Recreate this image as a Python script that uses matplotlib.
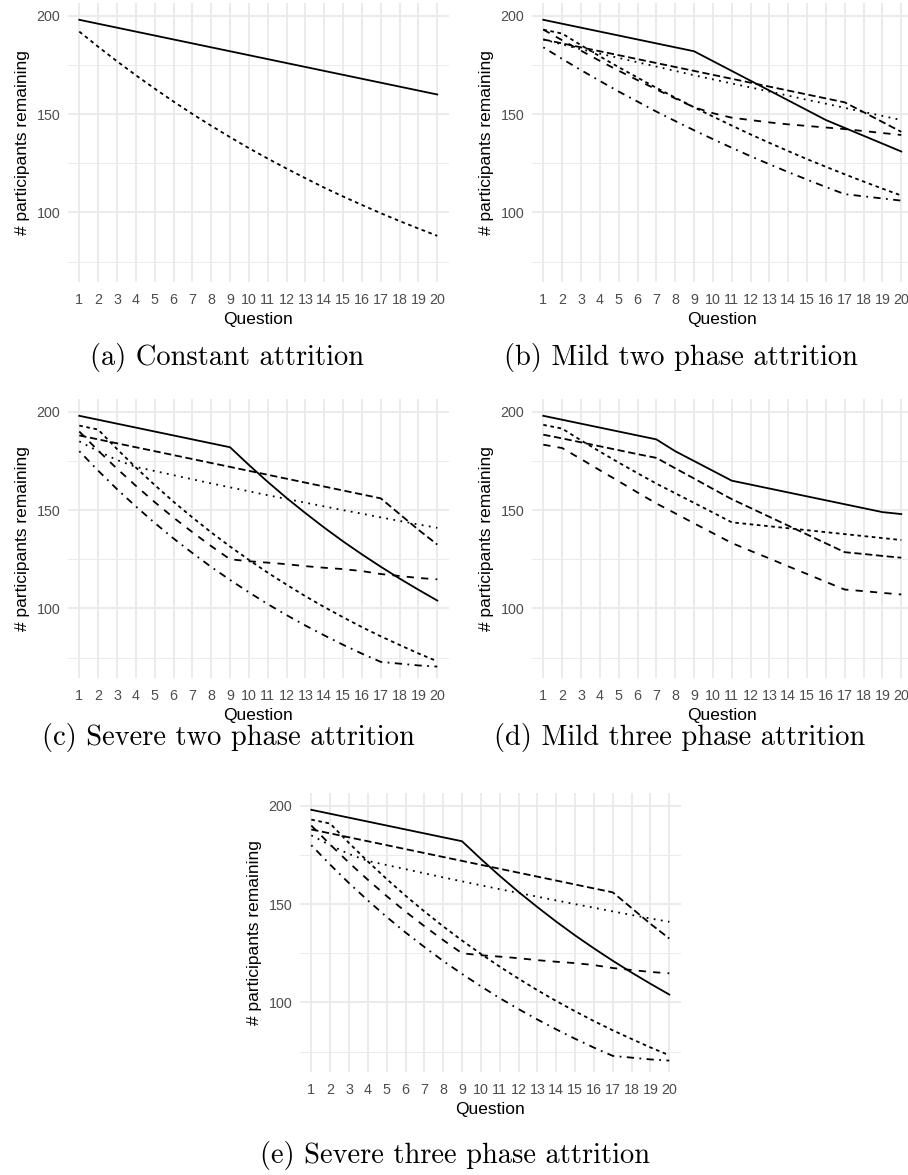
import numpy as np
import matplotlib.pyplot as plt

# preguntas del cuestionario
questions = list(range(1, 21))

# (a) Constant attrition
a_solid = [198, 196, 194, 192, 190, 188, 186, 184, 182, 180, 178, 176, 174, 172, 170, 168, 166, 164, 162, 160]
a_22 = [192, 184.3, 176.9, 169.8, 163.0, 156.4, 150.1, 144.1, 138.3, 132.7, 127.4, 122.3, 117.4, 112.6, 108.1, 103.8, 99.6, 95.6, 91.8, 88.1]

# (b) Mild two phase attrition
b_solid = [198, 196, 194, 192, 190, 188, 186, 184, 182, 177, 172, 167, 162, 157, 152, 147, 143, 139, 135, 131]
b_22 = [193, 191, 185.1, 179.4, 173.9, 168.6, 163.4, 158.4, 153.5, 148.8, 144.2, 139.7, 135.4, 131.2, 127.1, 123.2, 119.4, 115.7, 112.1, 108.6]
b_42 = [188, 186, 184, 182, 180, 178, 176, 174, 172, 170, 168, 166, 164, 162, 160, 158, 156, 151, 146, 141]
b_44 = [193, 187.6, 182.3, 177.1, 172.1, 167.3, 162.6, 158, 153.5, 150.5, 148.2, 147, 145.8, 144.8, 144, 143.2, 142.4, 141.4, 140.4, 139.4]
b_13 = [188, 185.5, 183, 180.8, 178.6, 176.4, 174.2, 172, 169.8, 167.7, 165.6, 163.6, 161.5, 159.4, 157.3, 155.3, 153.2, 151.1, 149.1, 147]
b_1343 = [184, 178.1, 172.4, 166.9, 161.5, 156.4, 151.3, 146.5, 141.8, 137.3, 132.9, 128.6, 124.5, 120.5, 116.7, 112.9, 109.3, 108.2, 107.1, 106]

# (c) Severe two phase attrition  (y (e) sale igual)
c_solid = [198, 196, 194, 192, 190, 188, 186, 184, 182, 173, 164.4, 156.2, 148.5, 141.1, 134.1, 127.5, 121.2, 115.2, 109.5, 104]
c_22 = [193, 191, 181.1, 171.7, 162.8, 154.3, 146.3, 138.7, 131.5, 124.7, 118.2, 112.1, 106.2, 100.7, 95.5, 90.5, 85.8, 81.4, 77.1, 73.1]
c_42 = [188, 186, 184, 182, 180, 178, 176, 174, 172, 170, 168, 166, 164, 162, 160, 158, 156, 148, 140, 132.5]
c_44 = [190, 180.3, 171.1, 162.4, 154.1, 146.2, 138.8, 131.7, 125, 124, 123.3, 122.5, 121.5, 120.7, 120, 119, 117.5, 116.5, 115.5, 114.8]
c_13 = [185, 180, 175.5, 172, 169.9, 167.8, 165.7, 163.6, 161.6, 159.6, 157.6, 155.7, 153.8, 151.9, 150, 148.2, 146.3, 144.5, 142.7, 141]
c_1343 = [180, 170.1, 160.7, 151.9, 143.5, 135.6, 128.2, 121.1, 114.5, 108.2, 102.2, 96.6, 91.3, 86.3, 81.5, 77, 72.8, 71.9, 71, 70.4]

# (d) Mild three phase attrition
d_solid = [198, 196, 194, 192, 190, 188, 186, 180, 175, 170, 165, 163, 161, 159, 157, 155, 153, 151, 149, 148]
d_22 = [193.4, 191.5, 185.5, 179.8, 174.2, 168.8, 163.5, 158.6, 153.7, 148.8, 143.8, 142.8, 141.8, 140.8, 139.8, 138.8, 137.8, 136.8, 135.8, 134.8]
d_42 = [188.4, 186.5, 184.5, 182.5, 180.5, 178.5, 176.6, 171.3, 166.1, 160.8, 155.6, 151.1, 146.6, 142.1, 137.6, 133.1, 128.6, 127.7, 126.7, 125.8]
d_44 = [183.3, 181.6, 176, 170.3, 164.7, 159, 153.4, 148.4, 143.3, 138.3, 133.3, 129.3, 125.4, 121.4, 117.5, 113.5, 109.6, 108.8, 107.9, 107.1]

captions = ["(a) Constant attrition", "(b) Mild two phase attrition",
            "(c) Severe two phase attrition", "(d) Mild three phase attrition",
            "(e) Severe three phase attrition"]

plt.rcParams['font.family'] = ['Liberation Sans', 'DejaVu Sans']

W, H = 908, 1175
fig = plt.figure(figsize=(W / 100, H / 100), dpi=100)

estilos = {'solid': '-', '22': (0, (2, 2)), '42': (0, (4, 2)), '44': (0, (4, 4)),
           '13': (0, (1, 3)), '1343': (0, (1, 3, 4, 3))}


def caja(x0, ytop):
    # pixeles -> fraccion de figura
    ancho, alto = 380.6, 279.5
    return [x0 / W, 1 - (ytop + alto) / H, ancho / W, alto / H]


def panel(rect, lineas):
    ax = fig.add_axes(rect)
    for serie, tipo in lineas:
        ax.plot(questions, serie, color='black', lw=1.3, linestyle=estilos[tipo], zorder=3)
    ax.set_xlim(0.4, 20.6)
    ax.set_ylim(64.5, 206.7)
    ax.set_xticks(questions)
    ax.set_yticks([100, 150, 200])
    ax.set_yticks([75, 125, 175], minor=True)
    ax.set_axisbelow(True)
    ax.grid(which='major', color='#EBEBEB', lw=1.4)
    ax.grid(which='minor', axis='y', color='#EBEBEB', lw=0.7)
    ax.tick_params(which='both', length=0, labelsize=10.3, labelcolor='#4D4D4D')
    ax.tick_params(axis='x', pad=8)
    ax.tick_params(axis='y', pad=5.5)
    for s in ax.spines.values():
        s.set_visible(False)
    ax.set_xlabel('Question', fontsize=12.5, labelpad=3.5)
    ax.set_ylabel('# participants remaining', fontsize=12.5, labelpad=5)
    return ax


linea_c = [(c_solid, 'solid'), (c_22, '22'), (c_42, '42'), (c_44, '44'), (c_13, '13'), (c_1343, '1343')]

panel(caja(68, 2.7), [(a_solid, 'solid'), (a_22, '22')])
panel(caja(532, 2.7), [(b_solid, 'solid'), (b_22, '22'), (b_42, '42'), (b_44, '44'), (b_13, '13'), (b_1343, '1343')])
panel(caja(68, 398.7), linea_c)
panel(caja(532, 398.7), [(d_solid, 'solid'), (d_22, '22'), (d_42, '42'), (d_44, '44')])
panel(caja(300, 792.7), linea_c)

pos = [(227, 358), (681, 358), (228, 737), (680, 737), (455, 1155)]
for texto, (x, y) in zip(captions, pos):
    fig.text(x / W, 1 - y / H, texto, family='cmr10', fontsize=20.5, ha='center', va='center')

plt.savefig("out.png", dpi=100)
